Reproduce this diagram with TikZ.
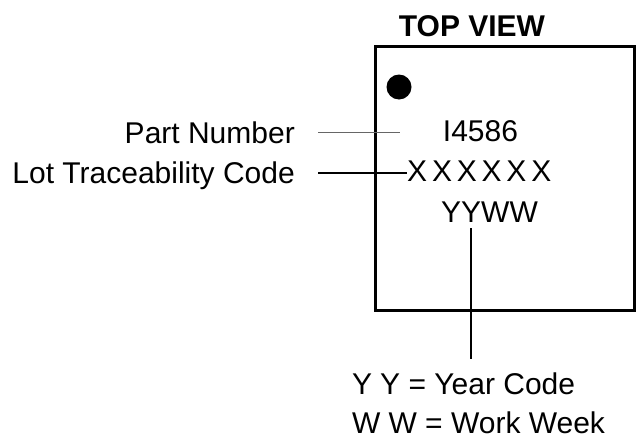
\documentclass[tikz,border=0pt]{standalone}
\usepackage{fontspec}
\setmainfont{Liberation Sans}
\begin{document}
\begin{tikzpicture}[x=1pt,y=-1pt,
  lbl/.style={inner sep=0pt,font=\fontsize{30}{34}\selectfont},
  ttl/.style={inner sep=0pt,font=\fontsize{30}{34}\selectfont\bfseries},
  pkg/.style={draw=black,line width=3pt},
  thinlead/.style={draw=black!60,line width=1pt},
  lead/.style={draw=black,line width=2pt}]
\useasboundingbox (0,0) rectangle (642,442);
\path[pkg] (375,46) rectangle (634,310);
\node[ttl,anchor=base] (title) at (472,36) {TOP VIEW};
\fill (399,87) circle (12.5);
\node[lbl,anchor=base] (pn) at (480.5,141) {I4586};
\node[lbl,anchor=base west] (lot) at (407,181) {X\kern4.8pt X\kern4.8pt X\kern4.8pt X\kern4.8pt X\kern4.8pt X};
\node[lbl,anchor=base] (date) at (489.5,222) {YYWW};
\node[lbl,anchor=base east] (pnl) at (295,143) {Part Number};
\node[lbl,anchor=base east] (lotl) at (295,183) {Lot Traceability Code};
\node[lbl,anchor=base west] (legend) at (352,394) {Y\kern8pt Y = Year Code};
\node[lbl,anchor=base west] (legend2) at (352,433) {W\kern8pt W = Work Week};
\coordinate (pnA) at (318,132);
\coordinate (pnB) at (400,132);
\coordinate (lotA) at (318,173);
\coordinate (dA) at (471,228);
\coordinate (dB) at (471,359);
\draw[thinlead] (pnA) -- (pnB);
\draw[lead] (lotA) -- (lot.west |- lotA);
\draw[lead] (dA) -- (dB);
\end{tikzpicture}
\end{document}
